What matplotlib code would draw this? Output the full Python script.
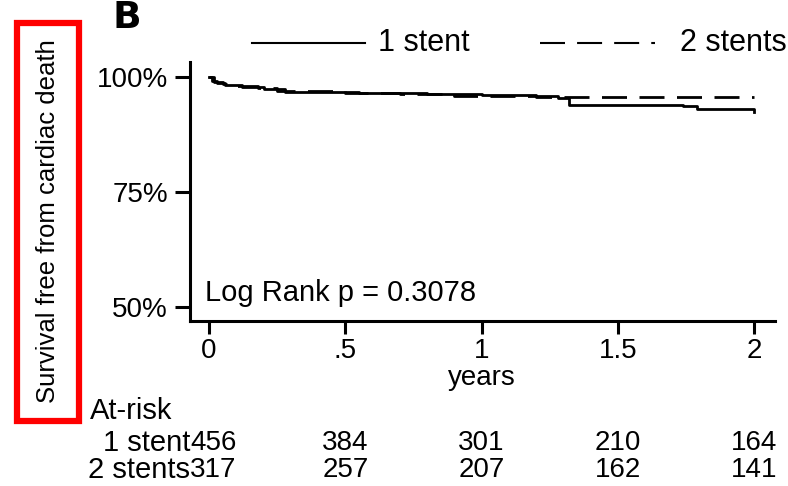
import matplotlib
matplotlib.use("Agg")
import matplotlib.pyplot as plt
from matplotlib.lines import Line2D

plt.rcParams['font.family'] = ['Liberation Sans', 'DejaVu Sans']

# Kaplan-Meier steps, survival free from cardiac death (%)
t_one = [0, 0.01, 0.03, 0.06, 0.12, 0.20, 0.28, 0.55, 0.80, 1.00, 1.20, 1.28, 1.32, 1.74, 1.79, 1.995, 2.0]
s_one = [100, 99.2, 98.7, 98.3, 97.9, 97.4, 96.8, 96.5, 96.2, 96.0, 95.8, 95.4, 94.0, 93.6, 93.1, 93.1, 92.4]
t_two = [0, 0.02, 0.05, 0.10, 0.18, 0.25, 0.50, 0.70, 0.90, 1.20, 2.0]
s_two = [100, 99.0, 98.5, 98.0, 97.6, 97.0, 96.6, 96.2, 95.9, 95.7, 95.7]

groups = ["1 stent", "2 stents"]
risk_times = [0, 0.5, 1, 1.5, 2]
risk_one = [456, 384, 301, 210, 164]
risk_two = [317, 257, 207, 162, 141]
xtick_labels = ["0", ".5", "1", "1.5", "2"]
yticks = [50, 75, 100]
p_value = 0.3078

W, H = 788, 486
fig = plt.figure(figsize=(W / 100, H / 100), dpi=100)

def fx(px):
    return px / W

def fy(py):
    return 1 - py / H

# axes box in pixel terms: x 190..775, y 62..321
ax = fig.add_axes([fx(190), fy(321), fx(775) - fx(190), fy(62) - fy(321)])
ax.set_xlim((190 - 209) / 272.5, (775 - 209) / 272.5)
ax.set_ylim(50 - 14 / 4.6, 100 + 15 / 4.6)

lw = 2.0
ax.step(t_one, s_one, where="post", color="black", lw=lw, label=groups[0])
ax.step(t_two, s_two, where="post", color="black", lw=lw,
        linestyle=(0, (9, 4.5)), label=groups[1])

for side in ["top", "right"]:
    ax.spines[side].set_visible(False)
for side in ["left", "bottom"]:
    ax.spines[side].set_linewidth(2.2)

ax.set_xticks(risk_times)
ax.set_xticklabels(xtick_labels)
ax.set_yticks(yticks)
ax.set_yticklabels([f"{v}%" for v in yticks])
ax.tick_params(axis="both", labelsize=20, width=2.2)
ax.tick_params(axis="y", length=11, pad=5)
ax.tick_params(axis="x", length=9, pad=3)

fig.text(fx(205), fy(293), f"Log Rank p = {p_value}", fontsize=21, va="center", ha="left")
fig.text(fx(482), fy(378), "years", fontsize=20, ha="center", va="center")
fig.text(fx(112), fy(18), "B", fontsize=27, fontweight="bold", family="DejaVu Sans",
         ha="left", va="center")
fig.text(fx(48), fy(221), "Survival free from cardiac death", fontsize=18.5,
         rotation=90, ha="center", va="center")

# red frame around the y label
fig.add_artist(plt.Rectangle((fx(17), fy(421)), fx(79) - fx(17), fy(23) - fy(421),
                             fill=False, edgecolor="#ff0000", lw=4.5, transform=fig.transFigure))

# legend above the plot
ly = fy(43)
fig.add_artist(Line2D([fx(252), fx(365)], [ly, ly], color="black", lw=1.5, transform=fig.transFigure))
fig.text(fx(378), ly, groups[0], fontsize=22, ha="left", va="center")
fig.add_artist(Line2D([fx(540), fx(655)], [ly, ly], color="black", lw=1.5,
                      linestyle=(0, (12, 5.8)), transform=fig.transFigure))
fig.text(fx(680), ly, groups[1], fontsize=22, ha="left", va="center")

# number at risk table
fig.text(fx(90), fy(411), "At-risk", fontsize=21, ha="left", va="center")
for row_y, name, counts in [(443, groups[0], risk_one), (470, groups[1], risk_two)]:
    fig.text(fx(190), fy(row_y), name, fontsize=21, ha="right", va="center")
    for i, (t, n) in enumerate(zip(risk_times, counts)):
        if i == 0:
            fig.text(fx(190), fy(row_y), str(n), fontsize=20, ha="left", va="center")
        else:
            xpix = 209 + t * 272.5
            fig.text(fx(xpix), fy(row_y), str(n), fontsize=20, ha="center", va="center")

fig.savefig("out.png", dpi=100)
